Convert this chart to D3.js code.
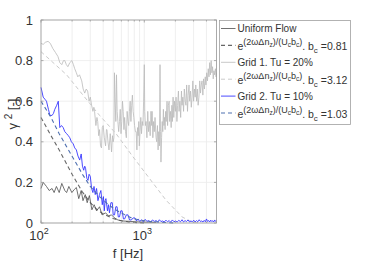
<!DOCTYPE html>
<html>
<head>
<meta charset="utf-8">
<script src="https://cdn.jsdelivr.net/npm/d3@7"></script>
<style>
  body { margin: 0; background: #fff; }
  text { font-family: "Liberation Sans", Arial, sans-serif; fill: #333; }
</style>
</head>
<body>
<script>
// ---- data ----
var uniformFreq = [100,105,113,120,128,134,141,150,159,170,177,186,199,210,220,232,245,255,268,280,294,311,327,345,369,390,422,450,482,515,555,615,718,895,1100,1300];
var uniformCoh  = [.17,.2,.18,.16,.17,.15,.18,.15,.195,.16,.15,.18,.15,.165,.175,.12,.16,.11,.14,.10,.135,.065,.09,.06,.08,.04,.05,.035,.04,.025,.015,.01,.008,.005,.004,.003];

var uniformFitFreq = [100,125,150,175,200,250,300,350,400,500,600,700,850,1000];
var uniformFitCoh  = [.52,.43,.36,.295,.24,.155,.10,.065,.045,.022,.011,.006,.002,0];

var grid1Freq = [100,105,110,117,123,130,138,146,152,159,165,170,176,182,190,199,206,212,220,227,236,248,256,265,274,283,292,300,309,318,325,330,340,348,354,362,369,377,385,392,400,410,422,430,435,445,455,468,482,492,500,508,514,522,530,538,546,555,565,575,585,595,605,615,625,635,645,658,670,682,695,706,718,730,742,755,767,780,792,805,820,835,848,860,873,885,895,910,925,940,955,970,985,1000,1010,1025,1040,1060,1080,1100,1120,1140,1160,1180,1190,1210,1230,1250,1270,1300,1320,1340,1360,1380,1400,1420,1435,1450,1470,1490,1510,1530,1550,1570,1590,1610,1630,1660,1680,1710,1740,1760,1790,1820,1850,1870,1900,1930,1960,2000,2030,2070,2100,2140,2170,2210,2250,2290,2320,2360,2400,2440,2490,2530,2570,2620,2660,2710,2750,2800,2850,2900,2950,3000,3060,3110,3150,3210,3260,3320,3380,3440,3500,3560,3620,3690,3750,3820,3890,3950,4020,4090,4160,4230,4300,4370,4440,4510,4580,4650,4720,4800,4880,4950,5000];
var grid1Coh  = [.885,.88,.89,.895,.885,.86,.84,.82,.79,.78,.8,.8,.78,.77,.79,.8,.78,.76,.74,.72,.73,.7,.66,.64,.66,.65,.6,.62,.58,.55,.57,.55,.48,.52,.5,.43,.46,.38,.37,.47,.48,.42,.38,.46,.46,.40,.36,.44,.35,.43,.4,.42,.74,.6,.5,.73,.55,.5,.45,.5,.56,.44,.5,.6,.55,.46,.52,.45,.42,.55,.5,.48,.55,.6,.5,.58,.63,.55,.52,.48,.45,.45,.36,.47,.43,.5,.38,.45,.52,.44,.5,.48,.6,.78,.55,.48,.5,.42,.55,.45,.5,.43,.55,.48,.55,.42,.5,.45,.52,.42,.4,.48,.36,.45,.38,.78,.45,.3,.42,.5,.45,.56,.48,.52,.46,.55,.5,.6,.48,.58,.6,.5,.55,.47,.58,.5,.62,.52,.6,.55,.62,.5,.58,.65,.55,.6,.52,.65,.58,.62,.55,.66,.6,.58,.68,.55,.63,.68,.6,.65,.57,.62,.7,.6,.66,.62,.68,.6,.66,.58,.62,.7,.64,.68,.7,.63,.71,.66,.72,.68,.74,.7,.76,.72,.79,.73,.8,.74,.77,.71,.75,.73,.76,.72,.74];

var grid1FitFreq = [100,177,255,369,533,767,1120,1620,2320,2900,3500];
var grid1FitCoh  = [.844,.73,.63,.53,.44,.33,.22,.113,.03,.005,0];

var grid2Freq = [100,105,109,113,118,122,128,132,136,142,147,152,158,164,170,177,184,190,197,205,212,220,228,237,245,252,259,265,270,278,285,292,300,309,318,326,335,345,356,368,380,392,402,410,418,425,440,450,460,475,490,500,515,530,545,560,575,592,610,628,645,670,695,720,750,780,810,840,870,900,940,980,1020,1060,1100,1150,1200,1250,1300,1350,1400,1450,1500,1560,1620,1680,1740,1800,1870,1940,2000,2080,2160,2240,2320,2400,2480,2560,2650,2740,2830,2920,3010,3100,3200,3300,3400,3500,3600,3700,3800,3900,4000,4100,4200,4300,4400,4500,4600,4700,4800,4900,5000];
var grid2Coh  = [.668,.62,.61,.6,.56,.53,.53,.54,.56,.58,.6,.47,.48,.47,.45,.44,.43,.42,.40,.39,.37,.36,.33,.31,.34,.28,.26,.28,.27,.22,.21,.24,.23,.17,.15,.18,.14,.17,.11,.14,.16,.09,.13,.06,.11,.12,.06,.09,.05,.1,.1,.04,.04,.08,.08,.03,.03,.06,.06,.02,.02,.04,.04,.015,.015,.025,.025,.01,.02,.008,.015,.006,.018,.008,.012,.005,.015,.008,.012,.005,.016,.007,.01,.005,.014,.006,.012,.004,.015,.006,.01,.005,.013,.006,.016,.005,.012,.007,.015,.005,.01,.006,.014,.005,.012,.006,.016,.007,.01,.005,.013,.006,.02,.007,.012,.005,.014,.007,.011,.005,.015,.008,.012];

var grid2FitFreq = [100,125,150,177,210,255,300,369,450,533,650,767,900,1120,1500,2000];
var grid2FitCoh  = [.6,.52,.44,.376,.31,.236,.18,.13,.09,.064,.04,.023,.015,.008,.003,0];

var yTicks = [0, 0.2, 0.4, 0.6, 0.8, 1];
var xMajor = [100, 1000];
var xMinor = [200,300,400,500,600,700,800,900,2000,3000,4000,5000];
var legendLabels = ["Uniform Flow", "fit", "Grid 1. Tu = 20%", "fit", "Grid 2. Tu = 10%", "fit"];
var fitValues = ["0.81", "3.12", "1.03"];

// ---- layout ----
var W = 374, H = 262;
var pLeft = 41, pRight = 216.5, pTop = 20, pBottom = 223;

var svg = d3.select("body").append("svg")
    .attr("width", W)
    .attr("height", H);

var x = d3.scaleLog().domain([100, 5000]).range([pLeft, pRight]);
var y = d3.scaleLinear().domain([0, 1]).range([pBottom, pTop]);

// grid
var grid = svg.append("g");
grid.selectAll("line.vx")
  .data(xMajor.concat(xMinor))
  .enter().append("line")
    .attr("x1", function(d) { return x(d); })
    .attr("x2", function(d) { return x(d); })
    .attr("y1", pTop).attr("y2", pBottom)
    .style("stroke", "#ebebeb").style("stroke-width", 0.8);
grid.selectAll("line.hy")
  .data(yTicks)
  .enter().append("line")
    .attr("x1", pLeft).attr("x2", pRight)
    .attr("y1", function(d) { return y(d); })
    .attr("y2", function(d) { return y(d); })
    .style("stroke", "#ebebeb").style("stroke-width", 0.8);

// series
var line = d3.line()
    .x(function(d) { return x(d[0]); })
    .y(function(d) { return y(d[1]); });

function zip(f, v) { return f.map(function(d, i) { return [d, v[i]]; }); }

var series = [
  {f: grid1Freq, v: grid1Coh, color: "#bababa", dash: null, w: 0.8},
  {f: grid1FitFreq, v: grid1FitCoh, color: "#cacaca", dash: "4,3", w: 1},
  {f: uniformFitFreq, v: uniformFitCoh, color: "#666", dash: "4,3", w: 1.1},
  {f: uniformFreq, v: uniformCoh, color: "#4d4d4d", dash: null, w: 0.8},
  {f: grid2Freq, v: grid2Coh, color: "#3838ff", dash: null, w: 0.9},
  {f: grid2FitFreq, v: grid2FitCoh, color: "#4f70b0", dash: "4,3", w: 1.1}
];

var plot = svg.append("g");
plot.selectAll("path")
  .data(series)
  .enter().append("path")
    .attr("d", function(d) { return line(zip(d.f, d.v)); })
    .style("fill", "none")
    .style("stroke", function(d) { return d.color; })
    .style("stroke-width", function(d) { return d.w; })
    .style("stroke-dasharray", function(d) { return d.dash; });

// axes box + ticks (inward, both sides)
var axisColor = "#9a9a9a";
svg.append("rect")
    .attr("x", pLeft).attr("y", pTop)
    .attr("width", pRight - pLeft).attr("height", pBottom - pTop)
    .style("fill", "none").style("stroke", axisColor).style("stroke-width", 0.8);

var ticks = svg.append("g").style("stroke", axisColor).style("stroke-width", 0.8);
xMajor.concat(xMinor).forEach(function(d) {
  var len = xMajor.indexOf(d) >= 0 ? 2.5 : 1.5;
  ticks.append("line").attr("x1", x(d)).attr("x2", x(d)).attr("y1", pBottom).attr("y2", pBottom - len);
  ticks.append("line").attr("x1", x(d)).attr("x2", x(d)).attr("y1", pTop).attr("y2", pTop + len);
});
yTicks.forEach(function(d) {
  ticks.append("line").attr("x1", pLeft).attr("x2", pLeft + 2.5).attr("y1", y(d)).attr("y2", y(d));
  ticks.append("line").attr("x1", pRight).attr("x2", pRight - 2.5).attr("y1", y(d)).attr("y2", y(d));
});

// tick labels
svg.selectAll("text.ytick")
  .data(yTicks)
  .enter().append("text")
    .attr("x", pLeft - 8)
    .attr("y", function(d) { return y(d) + 4.5; })
    .attr("text-anchor", "end")
    .style("font-size", "13px")
    .text(function(d) { return d; });

xMajor.forEach(function(d) {
  var t = svg.append("text")
      .attr("x", x(d) - 2)
      .attr("y", 240)
      .attr("text-anchor", "middle")
      .style("font-size", "13px");
  t.append("tspan").text("10");
  t.append("tspan").attr("dy", -6).style("font-size", "9px").text(Math.log10(d));
});

svg.append("text")
    .attr("x", 128)
    .attr("y", 258)
    .attr("text-anchor", "middle")
    .style("font-size", "13px")
    .text("f [Hz]");

var yl = svg.append("text")
    .attr("transform", "translate(17,114) rotate(-90)")
    .attr("text-anchor", "middle")
    .style("font-size", "13px");
yl.append("tspan").text("\u03b3 ");
yl.append("tspan").attr("dy", -5).style("font-size", "10px").text("2");
yl.append("tspan").attr("dy", 5).text(" [-]");

// legend
var lg = svg.append("g");
lg.append("rect")
    .attr("x", 219.5).attr("y", 20.5)
    .attr("width", 131).attr("height", 104)
    .style("fill", "#fff").style("stroke", "#a0a0a0").style("stroke-width", 0.8);

var rowY = d3.scaleLinear().domain([0, 5]).range([28.5, 113]);
var legendStyle = [series[3], series[2], series[0], series[1], series[4], series[5]];

legendLabels.forEach(function(lab, i) {
  var s = legendStyle[i];
  lg.append("line")
      .attr("x1", 221).attr("x2", 235.5)
      .attr("y1", rowY(i)).attr("y2", rowY(i))
      .style("stroke", s.color)
      .style("stroke-width", s.w)
      .style("stroke-dasharray", s.dash);
  var t = lg.append("text")
      .attr("x", 237.5)
      .attr("y", rowY(i) + 3.5)
      .style("font-size", "10px");
  if (lab !== "fit") {
    t.text(lab);
    return;
  }
  var val = fitValues[(i - 1) / 2];
  t.attr("y", rowY(i) + 5).style("font-size", "10.5px");
  t.append("tspan").text("e");
  t.append("tspan").attr("dy", -5.5).style("font-size", "9px").text("(2\u03c9\u0394n");
  t.append("tspan").attr("dy", 2).style("font-size", "6.5px").text("z");
  t.append("tspan").attr("dy", -2).style("font-size", "9px").text(")/(U");
  t.append("tspan").attr("dy", 2).style("font-size", "6.5px").text("c");
  t.append("tspan").attr("dy", -2).style("font-size", "9px").text("b");
  t.append("tspan").attr("dy", 2).style("font-size", "6.5px").text("c");
  t.append("tspan").attr("dy", -2).style("font-size", "9px").text(")");
  t.append("tspan").attr("dy", 5.5).text(". b");
  t.append("tspan").attr("dy", 3).style("font-size", "8px").text("c");
  t.append("tspan").attr("dy", -3).text(" =" + val);
});
</script>
</body>
</html>
